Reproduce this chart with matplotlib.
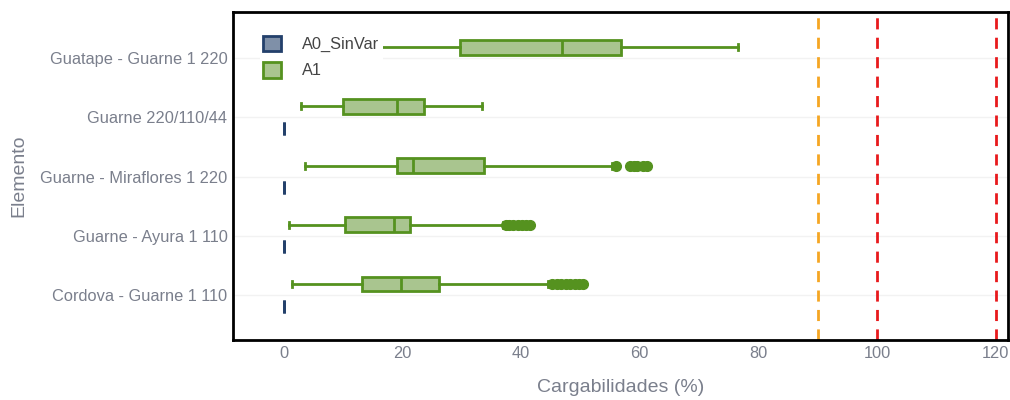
import matplotlib.pyplot as plt
from matplotlib.patches import Patch

# Elements (bottom to top)
elementos = ["Cordova - Guarne 1 110", "Guarne - Ayura 1 110", "Guarne - Miraflores 1 220",
             "Guarne 220/110/44", "Guatape - Guarne 1 220"]

# A1 box stats per element: low whisker, q1, median, q3, high whisker
a1_low = [1.4, 0.9, 3.6, 2.9, 8.0]
a1_q1 = [13.2, 10.3, 19.0, 10.0, 29.7]
a1_med = [19.7, 18.6, 21.7, 19.1, 46.9]
a1_q3 = [26.1, 21.2, 33.7, 23.6, 56.8]
a1_high = [44.5, 37.0, 55.3, 33.4, 76.6]
a1_outliers = [
    [45.2, 46.0, 46.8, 47.5, 48.3, 49.0, 49.8, 50.5],
    [37.4, 38.0, 38.7, 39.4, 40.1, 40.8, 41.5],
    [56.0, 58.3, 59.0, 59.6, 60.5, 61.2],
    [],
    [],
]

# A0_SinVar: all values at zero
a0_vals = [0.0, 0.0, 0.0, 0.0, 0.0]

# Reference lines
lim_90 = 90
lim_100 = [100, 120]

green_edge = "#55921f"
green_fill = "#a9c58f"
blue_edge = "#23406b"
blue_fill = "#7f90a8"
text_gray = "#7a7f8c"

plt.rcParams["font.family"] = ["Liberation Sans", "DejaVu Sans"]

fig = plt.figure(figsize=(10.1, 4.0), dpi=100)
ax = fig.add_axes([0.2307, 0.15, 0.7673, 0.82])

pos = list(range(len(elementos)))

a1_stats = []
for i in pos:
    a1_stats.append({"whislo": a1_low[i], "q1": a1_q1[i], "med": a1_med[i],
                     "q3": a1_q3[i], "whishi": a1_high[i], "fliers": a1_outliers[i]})
a0_stats = []
for i in pos:
    v = a0_vals[i]
    a0_stats.append({"whislo": v, "q1": v, "med": v, "q3": v, "whishi": v, "fliers": []})

ax.bxp(a1_stats, positions=[p + 0.186 for p in pos], vert=False, widths=0.25,
       patch_artist=True, capwidths=0.1,
       boxprops=dict(facecolor=green_fill, edgecolor=green_edge, linewidth=2),
       medianprops=dict(color=green_edge, linewidth=2),
       whiskerprops=dict(color=green_edge, linewidth=2),
       capprops=dict(color=green_edge, linewidth=2),
       flierprops=dict(marker="o", markerfacecolor=green_edge, markeredgecolor=green_edge,
                       markersize=7, linestyle="none"),
       zorder=3)
ax.bxp(a0_stats, positions=[p - 0.186 for p in pos], vert=False, widths=0.22,
       patch_artist=True, capwidths=0.0,
       boxprops=dict(facecolor=blue_fill, edgecolor=blue_edge, linewidth=2),
       medianprops=dict(color=blue_edge, linewidth=2),
       whiskerprops=dict(color=blue_edge, linewidth=2),
       capprops=dict(color=blue_edge, linewidth=0),
       zorder=3)

ax.axvline(lim_90, color="#f5a623", linestyle=(0, (4, 3)), linewidth=2, zorder=2)
for v in lim_100:
    ax.axvline(v, color="#e8191c", linestyle=(0, (4, 3)), linewidth=2, zorder=2)

for p in pos:
    ax.axhline(p, color="#f2f2f2", linewidth=1, zorder=1)

ax.set_xlim(-8.6, 122.1)
ax.set_ylim(-0.76, 4.78)
ax.set_xticks([0, 20, 40, 60, 80, 100, 120])
ax.set_yticks(pos)
ax.set_yticklabels(elementos)
ax.tick_params(axis="both", length=0, labelsize=11.8, labelcolor=text_gray)
ax.tick_params(axis="x", pad=4)
ax.tick_params(axis="y", pad=4)

ax.set_xlabel("Cargabilidades (%)", fontsize=14, color=text_gray, labelpad=13)
ax.set_ylabel("Elemento", fontsize=14, color=text_gray, labelpad=9)

for s in ax.spines.values():
    s.set_color("black")
    s.set_linewidth(2)

handles = [Patch(facecolor=blue_fill, edgecolor=blue_edge, linewidth=2, label="A0_SinVar"),
           Patch(facecolor=green_fill, edgecolor=green_edge, linewidth=2, label="A1")]
leg = ax.legend(handles=handles, loc="upper left", bbox_to_anchor=(0.024, 0.963),
                fontsize=11.8, frameon=True, facecolor="white", edgecolor="none",
                framealpha=1, handlelength=1.1, handleheight=1.1, handletextpad=1.3,
                labelspacing=0.6, borderpad=0.2, fancybox=False)
for t in leg.get_texts():
    t.set_color("#444444")
leg.set_zorder(5)

fig.savefig("out.png", dpi=100)
